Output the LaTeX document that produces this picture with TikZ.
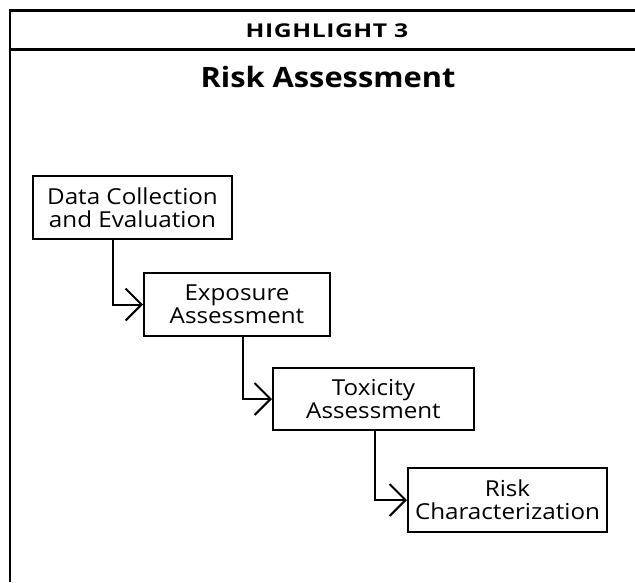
\documentclass[tikz,border=0pt]{standalone}
\usepackage{fontspec}
\setmainfont{Open Sans}[Ligatures={NoCommon,NoDiscretionary}]
\newfontfamily\boxfont{Open Sans}[FakeStretch=1.1, Ligatures={NoCommon,NoDiscretionary}]
\newfontfamily\headfont{Open Sans}[FakeStretch=1.3, LetterSpace=3]
\newfontfamily\titlefont{Open Sans}[FakeStretch=1.1]
\usetikzlibrary{arrows.meta}
\begin{document}
\begin{tikzpicture}[x=1pt,y=-1pt,
  stepbox/.style={draw, line width=2pt, align=center, inner sep=0pt,
    font=\boxfont\fontsize{22}{23}\selectfont},
  flow/.style={line width=2pt,
    -{Straight Barb[length=16pt,width=32pt,line width=2pt]}},
  frame/.style={line width=2.5pt}]
  \useasboundingbox (0,0) rectangle (635,582);

  % outer frame and header rule
  \draw[frame] (10,582) -- (10,10.5) -- (635,10.5);
  \draw[line width=3pt] (10,49.5) -- (635,49.5);

  \node[anchor=base, font=\headfont\bfseries\fontsize{19}{22}\selectfont] (head) at (327,37) {HIGHLIGHT 3};
  \node[anchor=base, font=\titlefont\bfseries\fontsize{28}{32}\selectfont] (title) at (328,87) {Risk Assessment};

  % process steps
  \node[stepbox, minimum width=199pt, minimum height=63pt] (b1) at (132.5,207.5) {Data Collection\\and Evaluation};
  \node[stepbox, minimum width=186pt, minimum height=63pt] (b2) at (237,304.5) {Exposure\\Assessment};
  \node[stepbox, minimum width=201pt, minimum height=62pt] (b3) at (373.5,399) {Toxicity\\Assessment};
  \node[stepbox, minimum width=199pt, minimum height=64pt] (b4) at (507.5,500) {Risk\\Characterization};

  % connectors
  \draw[flow] ([xshift=-19.5pt]b1.south) |- (b2.west);
  \draw[flow] ([xshift=6pt]b2.south) |- (b3.west);
  \draw[flow] ([xshift=1.5pt]b3.south) |- (b4.west);
\end{tikzpicture}
\end{document}
